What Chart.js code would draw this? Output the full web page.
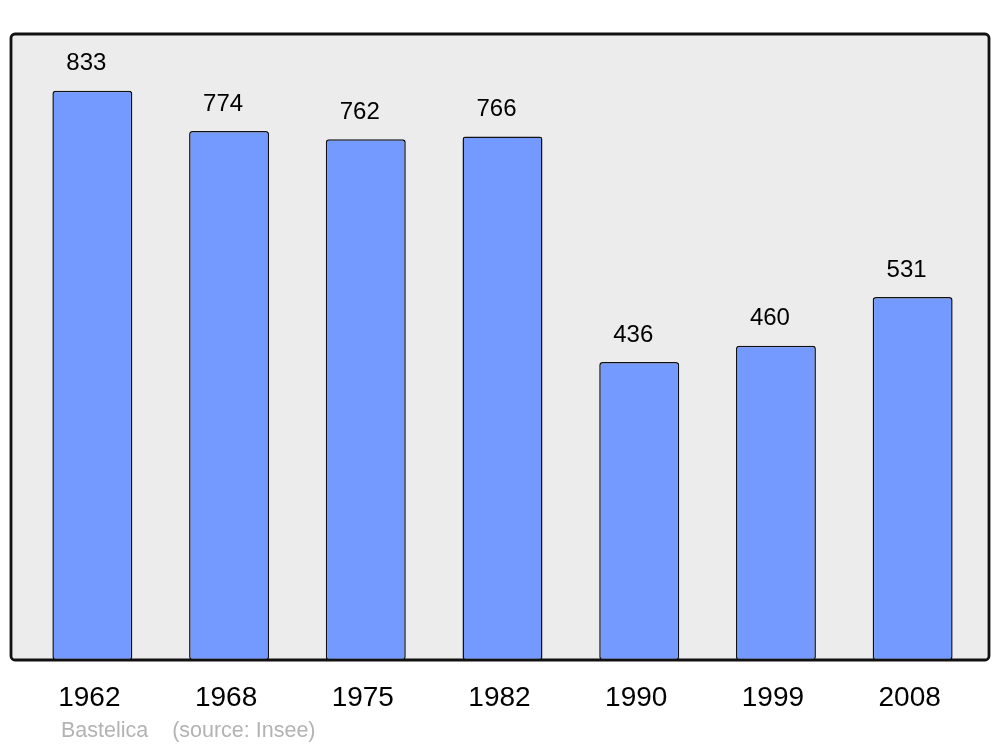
<!DOCTYPE html>
<html lang="fr">
<head>
    <meta charset="UTF-8" />
    <title>Bastelica - population</title>
    <script src="https://cdn.jsdelivr.net/npm/chart.js"></script>
    <style>
        body { margin: 0; background: #fff; }
        #chart { display: block; }
    </style>
</head>
<body>
    <canvas id="chart" width="1000" height="747"></canvas>
    <script>
        var years = ["1962", "1968", "1975", "1982", "1990", "1999", "2008"];
        var population = [833, 774, 762, 766, 436, 460, 531];
        var footerText = "Bastelica    (source: Insee)";

        // grey panel behind the bars
        const panel = {
            id: "panel",
            beforeDraw(chart) {
                const a = chart.chartArea, ctx = chart.ctx;
                const x0 = 11, x1 = 989, y0 = a.top, y1 = a.bottom;
                ctx.save();
                ctx.beginPath();
                ctx.roundRect(x0, y0, x1 - x0, y1 - y0, 4);
                ctx.fillStyle = "#ececec";
                ctx.fill();
                ctx.lineWidth = 2.8;
                ctx.strokeStyle = "#111";
                ctx.stroke();
                ctx.restore();
            }
        };

        // numbers above bars + footer
        const labels = {
            id: "labels",
            afterDatasetsDraw(chart) {
                const ctx = chart.ctx;
                const meta = chart.getDatasetMeta(0);
                ctx.save();
                ctx.font = "24px 'Liberation Sans', Arial, sans-serif";
                ctx.fillStyle = "#000";
                ctx.textAlign = "center";
                ctx.textBaseline = "middle";
                meta.data.forEach(function (bar, i) {
                    ctx.fillText(population[i], bar.x - 6, bar.y - 27);
                });
                ctx.font = "21.5px 'Liberation Sans', Arial, sans-serif";
                ctx.fillStyle = "#b3b3b3";
                ctx.textAlign = "left";
                ctx.fillText(footerText, 61, 731);
                ctx.restore();
            }
        };

        new Chart(document.getElementById("chart"), {
            type: "bar",
            data: {
                labels: years,
                datasets: [{
                    data: population,
                    backgroundColor: "#7499ff",
                    borderColor: "#111",
                    borderWidth: 1.5,
                    borderRadius: 3,
                    borderSkipped: false,
                    barPercentage: 0.585,
                    categoryPercentage: 1
                }]
            },
            options: {
                responsive: false,
                animation: false,
                layout: { padding: { top: 34, left: 24, right: 19, bottom: 0 } },
                plugins: { legend: { display: false }, tooltip: { enabled: false } },
                scales: {
                    y: { display: false, min: 0, max: 916 },
                    x: {
                        grid: { display: false },
                        border: { display: false },
                        ticks: {
                            color: "#000",
                            padding: 13,
                            labelOffset: -3,
                            font: { family: "'Liberation Sans', Arial, sans-serif", size: 28 }
                        },
                        afterFit: function (scale) { scale.height = 87; }
                    }
                }
            },
            plugins: [panel, labels]
        });
    </script>
</body>
</html>
